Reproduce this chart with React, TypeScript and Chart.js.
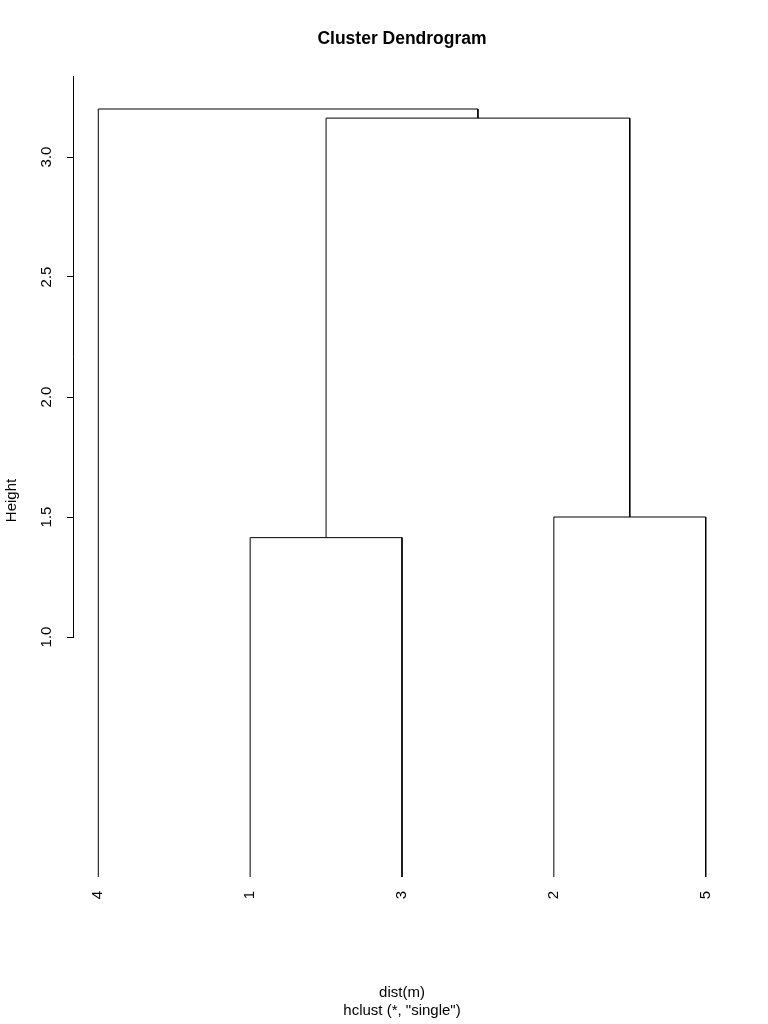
import React, { useEffect, useRef } from 'react';
import { Chart, registerables } from 'chart.js';

Chart.register(...registerables);

// ---- data ----
const leafLabels = ['4', '1', '3', '2', '5'];
const leafHeight = 0;
// merge children: negative = leaf position (1-based), positive = earlier merge index (1-based)
const mergeLeft = [-2, -4, 1, -1];
const mergeRight = [-3, -5, 2, 3];
const mergeHeights = [1.414, 1.5, 3.162, 3.2];
const yTicks = [1.0, 1.5, 2.0, 2.5, 3.0];

const titleText = 'Cluster Dendrogram';
const xTitle = 'dist(m)';
const subTitle = 'hclust (*, "single")';
const yTitle = 'Height';

const FONT = '"Liberation Sans", Arial, Helvetica, sans-serif';

type Pt = { x: number; y: number };

function buildSegments(): Pt[][] {
  const nodes: { x: number; h: number }[] = [];
  const info = (id: number) => (id < 0 ? { x: -id, h: leafHeight } : nodes[id - 1]);
  const segs: Pt[][] = [];
  mergeHeights.forEach((h, i) => {
    const a = info(mergeLeft[i]);
    const b = info(mergeRight[i]);
    segs.push([
      { x: a.x, y: a.h },
      { x: a.x, y: h },
      { x: b.x, y: h },
      { x: b.x, y: b.h },
    ]);
    nodes.push({ x: (a.x + b.x) / 2, h });
  });
  return segs;
}

const axisPlugin = {
  id: 'rAxisExtras',
  afterDraw(chart: any) {
    const { ctx, chartArea, scales } = chart;
    const y = scales.y;
    ctx.save();
    ctx.strokeStyle = '#000';
    ctx.lineWidth = 1;
    const x0 = Math.round(chartArea.left) - 0.5;
    ctx.beginPath();
    ctx.moveTo(x0, Math.round(y.getPixelForValue(yTicks[0])) + 0.5);
    ctx.lineTo(x0, chartArea.top);
    ctx.stroke();
    // y axis title
    ctx.fillStyle = '#000';
    ctx.font = `15px ${FONT}`;
    ctx.translate(16, 500.5);
    ctx.rotate(-Math.PI / 2);
    ctx.textAlign = 'center';
    ctx.textBaseline = 'alphabetic';
    ctx.fillText(yTitle, 0, 0);
    ctx.restore();
  },
};

export default function App() {
  const ref = useRef<HTMLCanvasElement | null>(null);

  useEffect(() => {
    if (!ref.current) return;
    const segs = buildSegments();
    const chart = new Chart(ref.current, {
      type: 'line',
      data: {
        datasets: segs.map((pts) => ({
          data: pts,
          borderColor: '#000',
          borderWidth: 1,
          pointRadius: 0,
          pointHoverRadius: 0,
          fill: false,
          tension: 0,
        })),
      },
      options: {
        animation: false,
        responsive: false,
        events: [],
        layout: { padding: { left: 0, right: 38, top: 0, bottom: 0 } },
        plugins: {
          legend: { display: false },
          tooltip: { enabled: false },
          title: {
            display: true,
            text: titleText,
            fullSize: false,
            color: '#000',
            font: { family: FONT, size: 17.5, weight: 'bold' },
            padding: { top: 28.5, bottom: 26.5 },
          },
          subtitle: {
            display: true,
            position: 'bottom',
            text: [xTitle, subTitle],
            fullSize: false,
            color: '#000',
            font: { family: FONT, size: 15, lineHeight: 1.2 },
            padding: { top: 76, bottom: 4 },
          },
        },
        scales: {
          x: {
            type: 'linear',
            position: 'bottom',
            min: 0.84,
            max: 5.16,
            grid: { display: false, drawTicks: false },
            border: { display: false },
            afterBuildTicks: (s: any) => {
              s.ticks = leafLabels.map((_, i) => ({ value: i + 1 }));
            },
            afterFit: (s: any) => {
              s.height = 31;
            },
            ticks: {
              autoSkip: false,
              minRotation: 90,
              maxRotation: 90,
              padding: 14,
              color: '#000',
              font: { family: FONT, size: 15 },
              callback: (v: any) => leafLabels[Math.round(Number(v)) - 1],
            },
          },
          y: {
            type: 'linear',
            position: 'left',
            min: 0,
            max: 3.3375,
            grid: {
              drawOnChartArea: false,
              drawTicks: true,
              tickLength: 7,
              color: '#000',
              lineWidth: 1,
            },
            border: { display: false },
            afterBuildTicks: (s: any) => {
              s.ticks = yTicks.map((v) => ({ value: v }));
            },
            afterFit: (s: any) => {
              s.width = 74;
            },
            ticks: {
              autoSkip: false,
              minRotation: 90,
              maxRotation: 90,
              crossAlign: 'center',
              padding: 10,
              color: '#000',
              font: { family: FONT, size: 15 },
              callback: (v: any) => Number(v).toFixed(1),
            },
          },
        },
      } as any,
      plugins: [axisPlugin],
    });
    return () => chart.destroy();
  }, []);

  return (
    <div style={{ position: 'absolute', left: 0, top: 0, width: 768, height: 1024, background: '#fff' }}>
      <canvas ref={ref} width={768} height={1024} style={{ display: 'block' }} />
    </div>
  );
}
